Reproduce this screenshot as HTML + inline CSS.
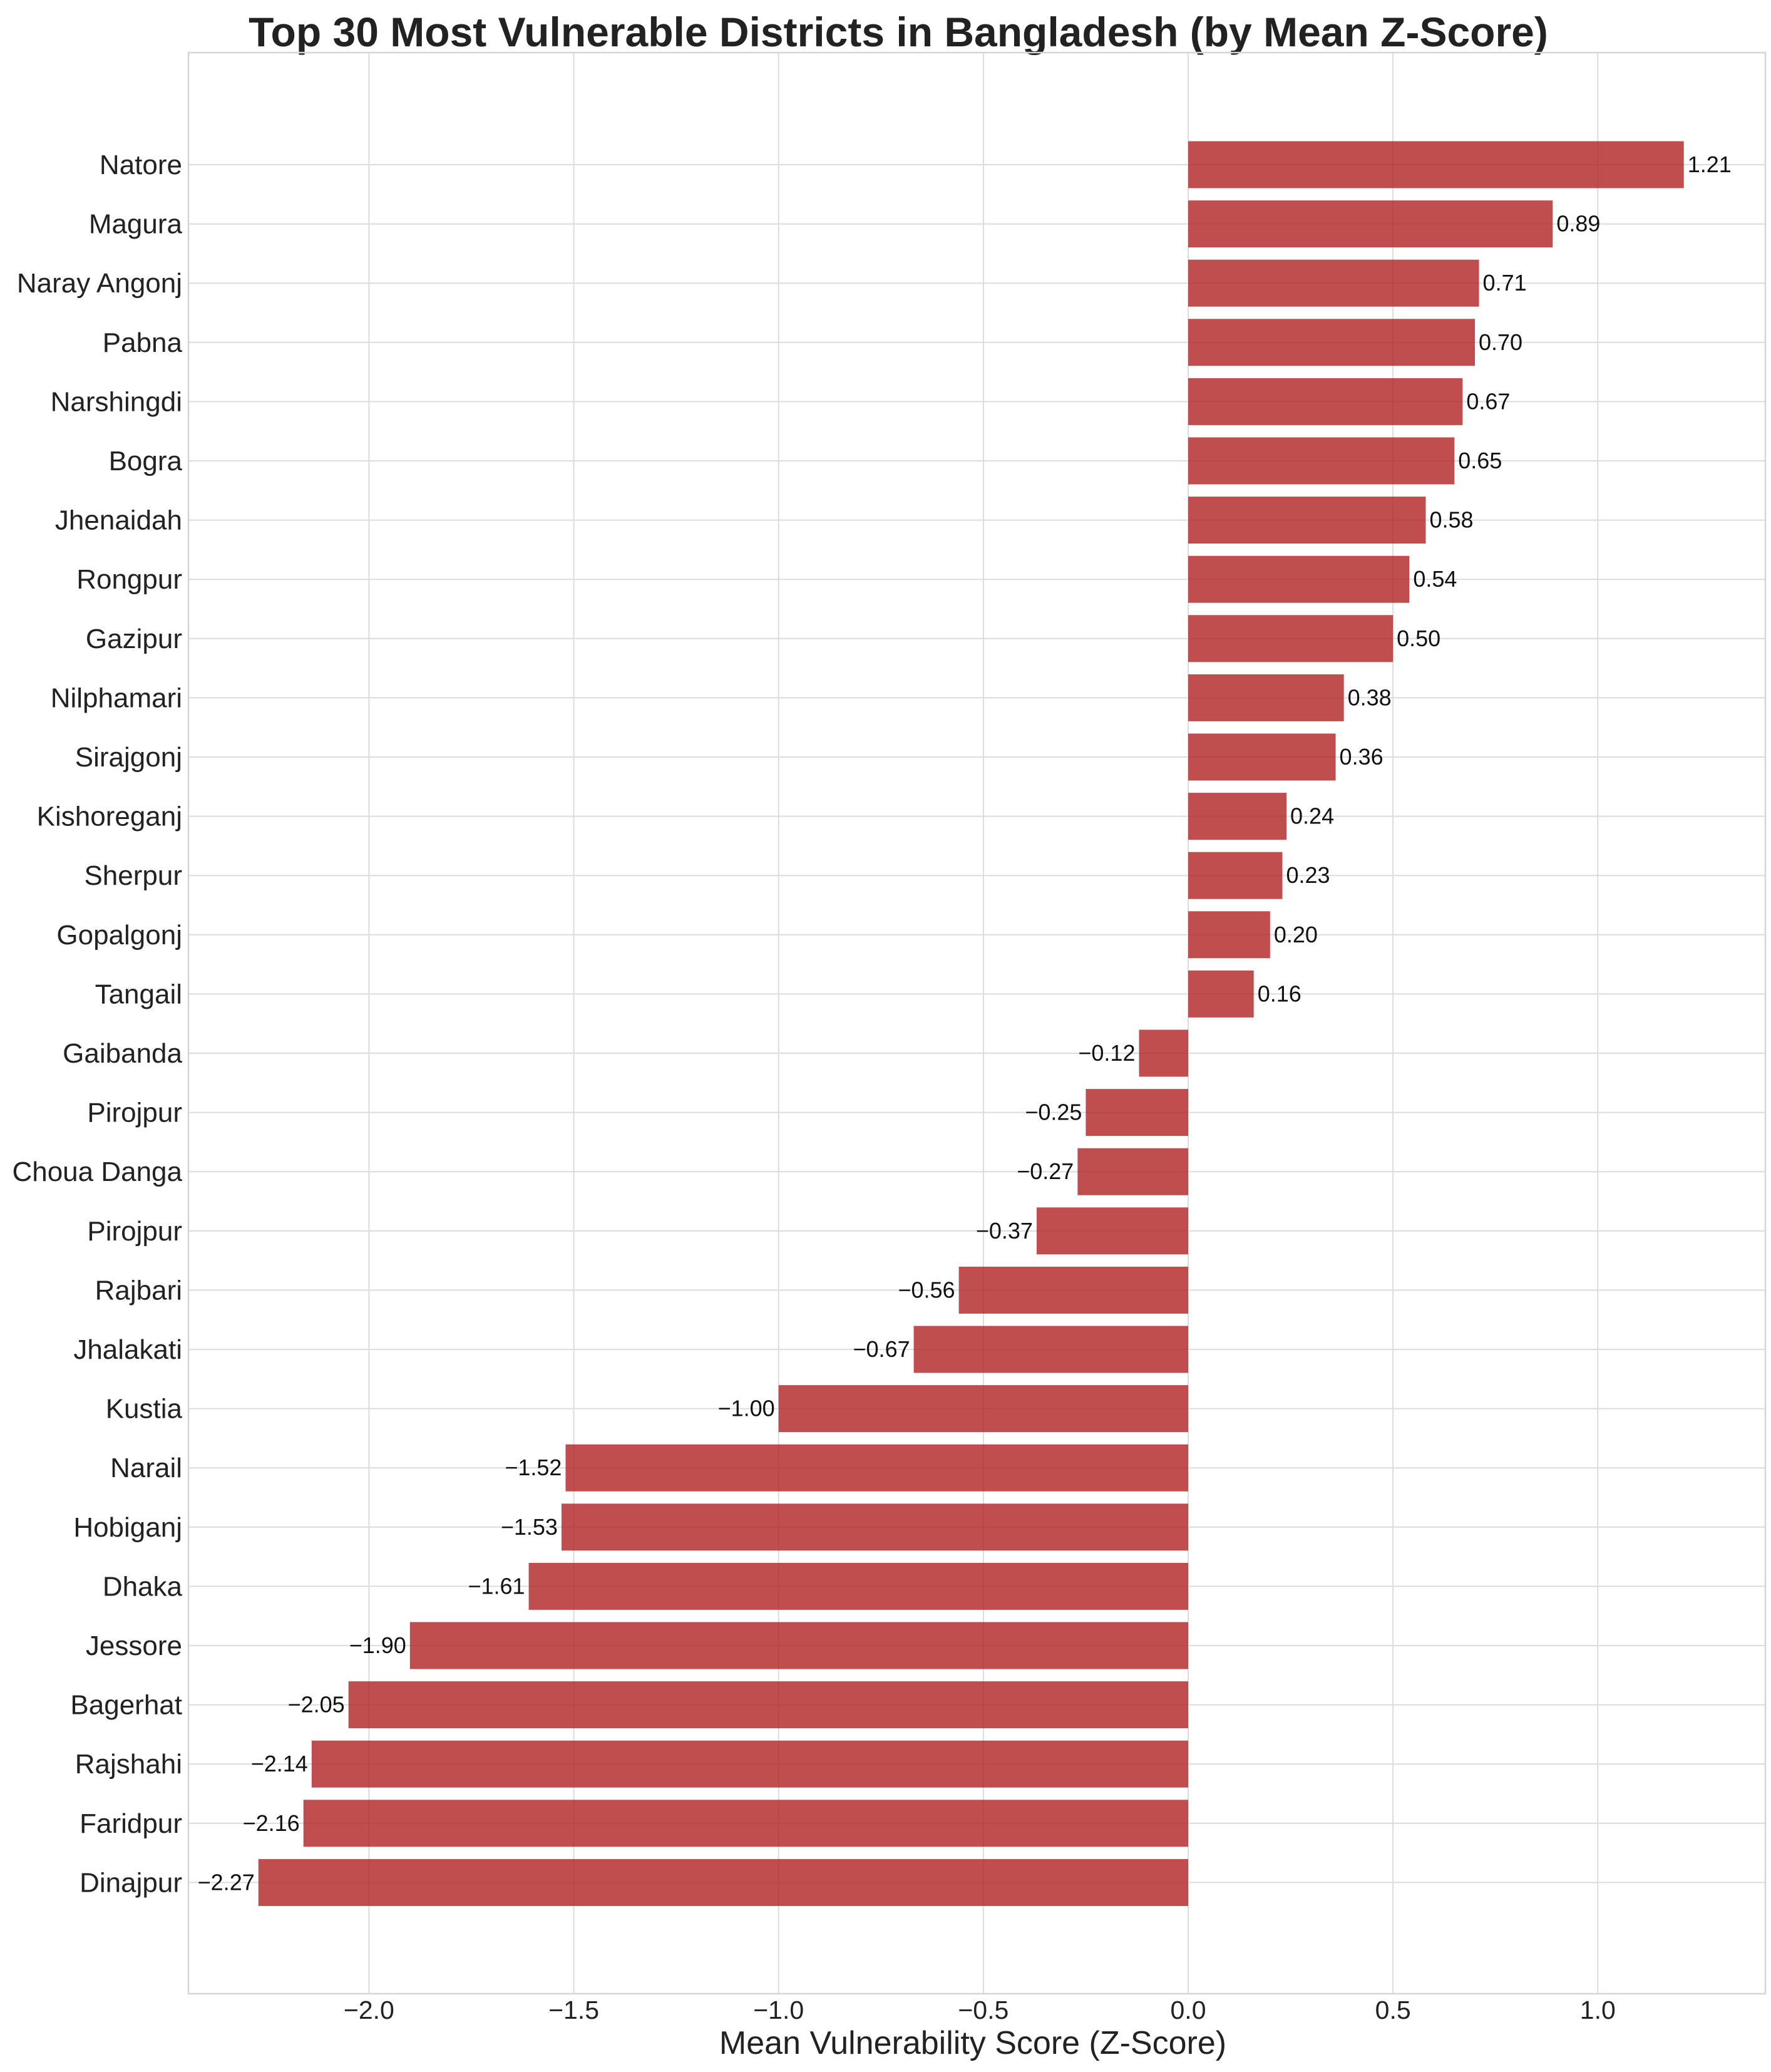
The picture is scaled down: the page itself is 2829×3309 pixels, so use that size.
<!DOCTYPE html>
<html><head><meta charset="utf-8"><style>
html,body{margin:0;padding:0;background:#fff}
svg{display:block;font-family:"Liberation Sans",sans-serif}
</style></head><body>
<svg id="chart" width="2829" height="3309" viewBox="0 0 2829 3309" xmlns="http://www.w3.org/2000/svg">
<rect width="2829" height="3309" fill="#fff"/>
<text x="1435" y="74" text-anchor="middle" font-size="66" font-weight="bold" fill="#222">Top 30 Most Vulnerable Districts in Bangladesh (by Mean Z-Score)</text>
<g id="grid"></g><g id="bars"></g><g id="labels"></g>
<rect x="301" y="84" width="2519" height="3100" fill="none" stroke="#d6d6d6" stroke-width="2.5"/>
<text x="1554" y="3280" text-anchor="middle" font-size="52" fill="#222">Mean Vulnerability Score (Z-Score)</text>
</svg>
<script>
const districts=["Natore","Magura","Naray Angonj","Pabna","Narshingdi","Bogra","Jhenaidah","Rongpur","Gazipur","Nilphamari","Sirajgonj","Kishoreganj","Sherpur","Gopalgonj","Tangail","Gaibanda","Pirojpur","Choua Danga","Pirojpur","Rajbari","Jhalakati","Kustia","Narail","Hobiganj","Dhaka","Jessore","Bagerhat","Rajshahi","Faridpur","Dinajpur"];
const scores=[1.21,0.89,0.71,0.70,0.67,0.65,0.58,0.54,0.50,0.38,0.36,0.24,0.23,0.20,0.16,-0.12,-0.25,-0.27,-0.37,-0.56,-0.67,-1.00,-1.52,-1.53,-1.61,-1.90,-2.05,-2.14,-2.16,-2.27];
const xTicks=[-2.0,-1.5,-1.0,-0.5,0.0,0.5,1.0];
const NS="http://www.w3.org/2000/svg";
const X0=1898,XU=654.3,Y0=263,YS=94.6,BH=75;
const xs=v=>X0+v*XU, ys=i=>Y0+i*YS;
function mk(t,a,p){const e=document.createElementNS(NS,t);for(const k in a)e.setAttribute(k,a[k]);document.getElementById(p).appendChild(e);return e;}
xTicks.forEach(t=>{
  const l=mk('line',{x1:xs(t),x2:xs(t),y1:84,y2:3184,stroke:'#dcdcdc','stroke-width':2},'grid');
  
  
  const tx=mk('text',{x:xs(t),y:3224,'text-anchor':'middle','font-size':41,fill:'#222'},'labels');
  tx.textContent=t.toFixed(1).replace('-','\u2212');
  
  
});
districts.forEach((d,i)=>{
  const y=ys(i);
  const g=mk('line',{x1:301,x2:2820,y1:y,y2:y,stroke:'#dcdcdc','stroke-width':2},'grid');
  
  
  const v=scores[i];
  const r=mk('rect',{x:Math.min(xs(0),xs(v)),y:y-BH/2,width:Math.abs(xs(v)-xs(0)),height:BH,fill:'#b22222','fill-opacity':0.8},'bars');
  
  
  const lb=mk('text',{x:291,y:y+15,'text-anchor':'end','font-size':44,fill:'#222'},'labels');
  lb.textContent=d;
  
  
  const vl=mk('text',{x:v>=0?xs(v)+6:xs(v)-6,y:y+12,'text-anchor':v>=0?'start':'end','font-size':36,fill:'#111'},'labels');
  vl.textContent=v.toFixed(2).replace('-','\u2212');
  
  
});
</script>
</body></html>
